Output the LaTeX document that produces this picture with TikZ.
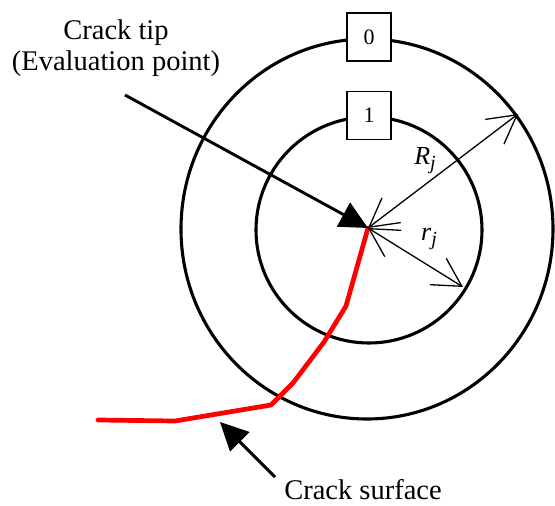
\documentclass[tikz,border=0pt]{standalone}
\usepackage{fontspec}
\setmainfont{Liberation Serif}
\usetikzlibrary{arrows.meta}
\newcommand{\mysub}[1]{\raisebox{-0.22em}{\fontsize{20}{21}\selectfont #1}}
\begin{document}
\begin{tikzpicture}[x=1pt,y=-1pt,
  ring/.style={line width=3.1pt},
  numbox/.style={draw,line width=1.3pt,fill=white,minimum width=44pt,minimum height=48pt,inner sep=0pt,font=\fontsize{22}{24}\selectfont},
  bigtext/.style={font=\fontsize{28.5}{31}\selectfont,inner sep=0pt,anchor=base},
  pointer/.style={line width=2.9pt,-{Triangle[length=28pt,width=27pt]}},
  radius arrow/.style={line width=1.3pt,{Straight Barb[length=28pt,width=31pt]}-{Straight Barb[length=28pt,width=31pt]}},
  crack/.style={red,line width=4.7pt,line cap=round,line join=round},
  symlabel/.style={font=\fontsize{26}{28}\selectfont\itshape,inner sep=0pt,anchor=base}]
\useasboundingbox (0,0) rectangle (555,506);
% circles
\draw[ring] (367,229) ellipse [x radius=186pt, y radius=190pt];
\draw[ring] (369,230) circle [radius=113pt];
% boxes
\node[numbox] (b0) at (369,37) {0};
\node[numbox] (b1) at (369,115.5) {1};
% key points
\coordinate (tip) at (368,228);
\coordinate (Rend) at (518,114);
\coordinate (rend) at (463,287);
\coordinate (tipstart) at (125,95);
\coordinate (surfstart) at (275,477);
\coordinate (surfend) at (220,422);
% crack
\draw[crack] (tip) -- (346,306) -- (324,342) -- (293,383) -- (271,405) -- (175,421) -- (98,420);
% radius arrows
\draw[radius arrow] (tip) -- (Rend);
\draw[radius arrow] (tip) -- (rend);
\node[symlabel] (Rl) at (425,164) {R\mysub{j}};
\node[symlabel] (rl) at (429,240) {r\mysub{j}};
% pointers
\draw[pointer] (tipstart) -- (tip);
\draw[pointer] (surfstart) -- (surfend);
% texts
\node[bigtext] (t1) at (116,39) {Crack tip};
\node[bigtext] (t2) at (116,70) {(Evaluation point)};
\node[bigtext,text depth=0pt] (t3) at (363,499) {Crack surface};
\end{tikzpicture}
\end{document}
